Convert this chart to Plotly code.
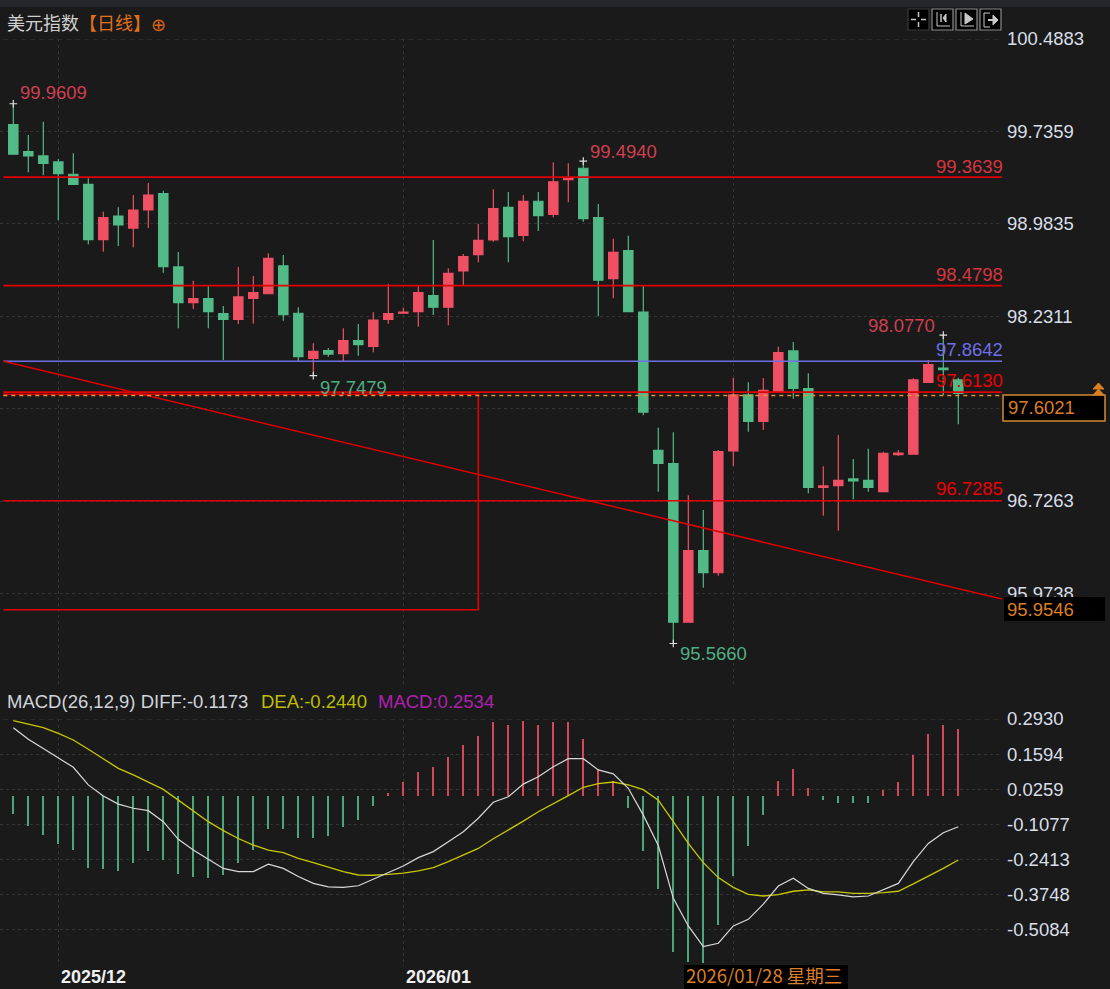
#######################################
# IMPORTS #############################
#######################################

import plotly.graph_objects as go

#######################################
# Data ################################
#######################################

# daily candles (index 0 is the first candle on the left)
opens = [99.791, 99.571, 99.536, 99.487, 99.387, 99.305, 98.854, 99.047, 98.949, 99.096,
         99.229, 98.632, 98.341, 98.374, 98.252, 98.206, 98.377, 98.414, 98.642, 98.255,
         97.888, 97.950, 97.926, 98.032, 97.986, 98.206, 98.255, 98.268, 98.398, 98.304,
         98.599, 98.732, 98.852, 99.118, 98.890, 99.167, 99.061, 99.343, 99.436, 99.033,
         98.537, 98.765, 98.265, 97.139, 97.030, 95.739, 96.322, 96.142, 97.134, 97.590,
         97.375, 97.616, 97.948, 97.641, 96.838, 96.851, 96.906, 96.895, 96.802, 97.103,
         97.107, 97.693, 97.809, 97.712]
highs = [99.9609, 99.707, 99.815, 99.511, 99.558, 99.354, 99.082, 99.118, 99.218, 99.316,
         99.253, 98.754, 98.520, 98.475, 98.314, 98.632, 98.559, 98.743, 98.730, 98.304,
         98.011, 97.972, 98.133, 98.168, 98.263, 98.496, 98.300, 98.477, 98.852, 98.621,
         98.738, 98.984, 99.265, 99.243, 99.218, 99.243, 99.484, 99.476, 99.4940, 99.145,
         98.862, 98.887, 98.477, 97.323, 97.286, 96.773, 96.653, 97.142, 97.728, 97.693,
         97.728, 97.983, 98.021, 97.766, 97.009, 97.264, 97.068, 97.152, 97.128, 97.142,
         97.726, 97.875, 98.0770, 97.730]
lows = [99.550, 99.403, 99.379, 99.012, 99.305, 98.817, 98.756, 98.803, 98.792, 98.949,
        98.585, 98.133, 98.290, 98.133, 97.875, 98.168, 98.170, 98.414, 98.195, 97.861,
        97.7479, 97.901, 97.861, 97.910, 97.937, 98.170, 98.255, 98.146, 98.241, 98.157,
        98.485, 98.670, 98.838, 98.670, 98.841, 98.925, 99.036, 99.159, 99.001, 98.230,
        98.377, 98.268, 97.424, 96.802, 95.5660, 95.739, 96.020, 96.118, 97.011, 97.291,
        97.305, 97.616, 97.559, 96.789, 96.607, 96.485, 96.740, 96.802, 96.802, 97.093,
        97.107, 97.693, 97.590, 97.351]
closes = [99.550, 99.536, 99.476, 99.392, 99.305, 98.854, 99.033, 98.974, 99.096, 99.218,
          98.634, 98.341, 98.374, 98.268, 98.206, 98.388, 98.423, 98.703, 98.243, 97.901,
          97.945, 97.923, 98.032, 97.999, 98.200, 98.252, 98.265, 98.423, 98.304, 98.581,
          98.716, 98.849, 99.107, 98.879, 99.167, 99.050, 99.326, 99.354, 99.025, 98.524,
          98.752, 98.268, 97.449, 97.033, 95.739, 96.322, 96.142, 97.128, 97.590, 97.375,
          97.628, 97.934, 97.644, 96.838, 96.849, 96.895, 96.889, 96.838, 97.115, 97.117,
          97.712, 97.836, 97.796, 97.6021]

# MACD panel
macd_hist = [-0.067, -0.113, -0.147, -0.183, -0.204, -0.273, -0.279, -0.284, -0.255, -0.209,
             -0.245, -0.296, -0.307, -0.312, -0.301, -0.255, -0.206, -0.124, -0.124, -0.159,
             -0.159, -0.152, -0.118, -0.091, -0.038, 0.011, 0.053, 0.093, 0.109, 0.149,
             0.195, 0.230, 0.281, 0.269, 0.287, 0.269, 0.281, 0.281, 0.218, 0.104,
             0.057, -0.044, -0.209, -0.353, -0.593, -0.632, -0.637, -0.491, -0.303, -0.192,
             -0.072, 0.058, 0.104, 0.029, -0.017, -0.028, -0.028, -0.028, 0.024, 0.052,
             0.155, 0.235, 0.269, 0.2534]
diff_line = [0.260, 0.216, 0.181, 0.146, 0.109, 0.042, 0.000, -0.031, -0.047, -0.056,
             -0.098, -0.165, -0.206, -0.241, -0.276, -0.288, -0.288, -0.260, -0.276, -0.307,
             -0.333, -0.346, -0.348, -0.342, -0.318, -0.292, -0.267, -0.235, -0.212, -0.174,
             -0.136, -0.085, -0.024, -0.003, 0.045, 0.073, 0.111, 0.142, 0.142, 0.099,
             0.084, 0.029, -0.073, -0.189, -0.390, -0.495, -0.574, -0.561, -0.495, -0.470,
             -0.412, -0.343, -0.313, -0.352, -0.371, -0.377, -0.384, -0.381, -0.358, -0.333,
             -0.250, -0.181, -0.140, -0.1173]
dea_line = [0.287, 0.274, 0.260, 0.238, 0.213, 0.178, 0.143, 0.105, 0.080, 0.054,
            0.025, -0.016, -0.056, -0.098, -0.132, -0.162, -0.187, -0.206, -0.216, -0.238,
            -0.254, -0.272, -0.288, -0.301, -0.302, -0.299, -0.294, -0.285, -0.273, -0.250,
            -0.225, -0.200, -0.163, -0.130, -0.096, -0.060, -0.031, 0.001, 0.033, 0.047,
            0.053, 0.042, 0.024, -0.016, -0.098, -0.181, -0.254, -0.311, -0.348, -0.375,
            -0.381, -0.376, -0.363, -0.358, -0.365, -0.365, -0.371, -0.371, -0.368, -0.363,
            -0.335, -0.307, -0.276, -0.2440]

# axis ticks (97.4787 has a grid line but its label is hidden behind the price box)
price_ticks = [100.4883, 99.7359, 98.9835, 98.2311, 97.4787, 96.7263, 95.9738]
price_tick_text = ["100.4883", "99.7359", "98.9835", "98.2311", "", "96.7263", "95.9738"]
macd_ticks = [0.2930, 0.1594, 0.0259, -0.1077, -0.2413, -0.3748, -0.5084]
date_grid = [3, 26, 48]
date_labels = {3: "2025/12", 26: "2026/01"}

# horizontal levels drawn on the chart
red_levels = [99.3639, 98.4798, 97.6130, 96.7285]
blue_level = 97.8642
last_price = 97.6021
last_line = 97.585
trend_end_label = 95.9546

# extremes marked with a small cross
extreme_marks = [(0, 99.9609), (20, 97.7479), (38, 99.4940), (44, 95.5660), (62, 98.0770)]

#######################################
# Plotting ############################
#######################################

WIDTH = 1110
HEIGHT = 989
BG = "#1A1A1A"
RED = "#EF5064"
GREEN = "#52BA87"
LINE_RED = "#E00000"
ORANGE = "#DB7F22"
FONT = "Liberation Sans"
CJK = "Noto Sans CJK SC"

X_RANGE = [-0.887, 65.913]
LINE_START = -0.667
BOX_END = 31

def px(x):
    return x / WIDTH

def py(y):
    return 1 - y / HEIGHT

fig = go.Figure()
idx = list(range(len(opens)))

fig.add_trace(go.Candlestick(
    x=idx, open=opens, high=highs, low=lows, close=closes,
    increasing=dict(line=dict(color=RED, width=1.2), fillcolor=RED),
    decreasing=dict(line=dict(color=GREEN, width=1.2), fillcolor=GREEN),
    whiskerwidth=0,
    hoverinfo="skip",
    showlegend=False,
))

# red levels, blue level, box and trend line all sit above the candles
for level in red_levels:
    fig.add_trace(go.Scatter(x=[LINE_START, X_RANGE[1]], y=[level, level], mode="lines",
                             line=dict(color=LINE_RED, width=1.6), hoverinfo="skip", showlegend=False))
fig.add_trace(go.Scatter(x=[LINE_START, X_RANGE[1]], y=[blue_level, blue_level], mode="lines",
                         line=dict(color="#6E6EE6", width=1.6), hoverinfo="skip", showlegend=False))
fig.add_trace(go.Scatter(x=[LINE_START, X_RANGE[1]], y=[blue_level, 95.928], mode="lines",
                         line=dict(color=LINE_RED, width=1.5), hoverinfo="skip", showlegend=False))
fig.add_trace(go.Scatter(x=[LINE_START, BOX_END, BOX_END, LINE_START], y=[97.595, 97.595, 95.841, 95.841],
                         mode="lines", line=dict(color=LINE_RED, width=1.6),
                         hoverinfo="skip", showlegend=False))
fig.add_trace(go.Scatter(x=[LINE_START, X_RANGE[1]], y=[last_line, last_line], mode="lines",
                         line=dict(color="#E8922E", width=1.5, dash="4px,4px"),
                         hoverinfo="skip", showlegend=False))
fig.add_trace(go.Scatter(x=[LINE_START, X_RANGE[1]], y=[price_ticks[0], price_ticks[0]], mode="lines",
                         line=dict(color="#3C3C3C", width=1, dash="5px,4px"),
                         hoverinfo="skip", showlegend=False))

# white crosses on the extremes
fig.add_trace(go.Scatter(x=[m[0] for m in extreme_marks], y=[m[1] for m in extreme_marks], mode="markers",
                         marker=dict(symbol="cross-thin", size=5.5, line=dict(color="#E0E0E0", width=1.2)),
                         hoverinfo="skip", showlegend=False))

# MACD panel
fig.add_trace(go.Bar(x=idx, y=macd_hist, width=0.1,
                     marker=dict(color=["#D2475C" if v > 0 else "#4BA67C" for v in macd_hist], line_width=0),
                     xaxis="x2", yaxis="y2", hoverinfo="skip", showlegend=False))
fig.add_trace(go.Scatter(x=idx, y=dea_line, mode="lines", line=dict(color="#C8C800", width=1.3),
                         xaxis="x2", yaxis="y2", hoverinfo="skip", showlegend=False))
fig.add_trace(go.Scatter(x=idx, y=diff_line, mode="lines", line=dict(color="#D8D8D8", width=1.2),
                         xaxis="x2", yaxis="y2", hoverinfo="skip", showlegend=False))
fig.add_trace(go.Scatter(x=[LINE_START, X_RANGE[1]], y=[macd_ticks[0], macd_ticks[0]], mode="lines",
                         line=dict(color="#3C3C3C", width=1, dash="5px,4px"),
                         xaxis="x2", yaxis="y2", hoverinfo="skip", showlegend=False))

# Text
annotations = []

def add_text(text, x, y, color, size=18.5, family=FONT, anchor="left"):
    annotations.append(dict(text=text, x=px(x), y=py(y), xref="paper", yref="paper", xanchor=anchor,
                            yanchor="middle", showarrow=False, font=dict(family=family, size=size, color=color)))

def add_value(text, x, y, color, xshift, yshift, anchor="left"):
    annotations.append(dict(text=text, x=x, y=y, xref="x", yref="y", xanchor=anchor, yanchor="middle",
                            xshift=xshift, yshift=yshift, showarrow=False,
                            font=dict(family=FONT, size=18.5, color=color)))

add_text("美元指数<span style='color:#E0701A'>【日线】</span>", 5, 22, "#CFCFCF", size=18, family=CJK)
add_text("⊕", 158, 25, "#D9650F", size=18, family="DejaVu Sans", anchor="center")

add_value("99.9609", 0, highs[0], "#CF4050", 5, 11)
add_value("99.4940", 38, highs[38], "#CF4050", 5, 10)
add_value("98.0770", 62, highs[62], "#CF4050", -6, 10, anchor="right")
add_value("97.7479", 20, lows[20], "#4FAE84", 5, -12)
add_value("95.5660", 44, lows[44], "#4FAE84", 5, -10)

add_value("99.3639", X_RANGE[1], red_levels[0], "#D8353F", 3, 11, anchor="right")
add_value("98.4798", X_RANGE[1], red_levels[1], "#D8353F", 3, 11, anchor="right")
add_value("97.8642", X_RANGE[1], blue_level, "#6E6EE6", 3, 12, anchor="right")
add_value("97.6130", X_RANGE[1], red_levels[2], "#EE0000", 3, 12, anchor="right")
add_value("96.7285", X_RANGE[1], red_levels[3], "#EE0000", 3, 12, anchor="right")

add_text("97.6021", 1006, 407, ORANGE)
add_text("95.9546", 1005, 609, ORANGE)

add_text("MACD(26,12,9) DIFF:-0.1173", 5, 701, "#D0D4DC")
add_text("DEA:-0.2440", 259, 701, "#BDBD00")
add_text("MACD:0.2534", 376, 701, "#B020B0")

for i, label in date_labels.items():
    annotations.append(dict(text=f"<b>{label}</b>", x=i, y=py(977), xref="x2", yref="paper", xanchor="left",
                            yanchor="middle", xshift=1, showarrow=False,
                            font=dict(family=FONT, size=18, color="#F0F0F0")))

add_text("2026/01/28 星期三", 684, 974.5, ORANGE, family=CJK, size=18.5)

# Frame pieces: header strip, price boxes, toolbar
shapes = [
    dict(type="rect", xref="paper", yref="paper", x0=0, x1=1, y0=py(7), y1=1, fillcolor="#26272B", line_width=0),
    dict(type="rect", xref="paper", yref="paper", x0=px(1003), x1=px(1105), y0=py(395), y1=py(421),
         fillcolor="#000000", line=dict(color="#CF8A30", width=1.5)),
    dict(type="rect", xref="paper", yref="paper", x0=px(1004), x1=px(1105), y0=py(597), y1=py(621),
         fillcolor="#000000", line_width=0),
    dict(type="rect", xref="paper", yref="paper", x0=px(684), x1=px(848), y0=py(965), y1=py(989),
         fillcolor="#000000", line_width=0),
]

def add_pixel_path(points, color, fill=None, width=1):
    path = "M " + " L ".join(f"{px(x)} {py(y)}" for x, y in points)
    if fill:
        path += " Z"
    shapes.append(dict(type="path", xref="paper", yref="paper", path=path, fillcolor=fill,
                       line=dict(color=color, width=width)))

# double arrow above the last price box
for top in (383, 389):
    add_pixel_path([(1098.5, top), (1104, top + 6), (1093, top + 6)], ORANGE, fill=ORANGE)

# toolbar buttons
for n, left in enumerate([908, 932, 956, 980]):
    border = "#3A3A3A" if n == 0 else "#8A8A8A"
    shapes.append(dict(type="rect", xref="paper", yref="paper", x0=px(left), x1=px(left + 21),
                       y0=py(9), y1=py(30), fillcolor="#000000", line=dict(color=border, width=1.2)))
    if n == 0:
        add_pixel_path([(left + 3, 19.5), (left + 8, 19.5)], "#C8C8C8", width=1.5)
        add_pixel_path([(left + 13, 19.5), (left + 18, 19.5)], "#C8C8C8", width=1.5)
        add_pixel_path([(left + 10.5, 12), (left + 10.5, 17)], "#C8C8C8", width=1.5)
        add_pixel_path([(left + 10.5, 22), (left + 10.5, 27)], "#C8C8C8", width=1.5)
    elif n == 1:
        add_pixel_path([(left + 5, 12), (left + 5, 26), (left + 18, 26)], "#C8C8C8")
        add_pixel_path([(left + 9, 14), (left + 9, 22)], "#C8C8C8", width=1.5)
        add_pixel_path([(left + 14, 14), (left + 11, 18), (left + 14, 22)], "#C8C8C8", fill="#C8C8C8")
    elif n == 2:
        add_pixel_path([(left + 5, 12), (left + 5, 26), (left + 18, 26)], "#C8C8C8")
        add_pixel_path([(left + 9, 13), (left + 17, 19), (left + 9, 24)], "#C8C8C8", fill="#C8C8C8")
    else:
        add_pixel_path([(left + 10, 13), (left + 4, 13), (left + 4, 27), (left + 10, 27)], "#C8C8C8")
        add_pixel_path([(left + 8, 20), (left + 13, 20)], "#C8C8C8", width=2)
        add_pixel_path([(left + 13, 15), (left + 18, 20), (left + 13, 25)], "#C8C8C8", fill="#C8C8C8")

grid = dict(showgrid=True, gridcolor="#343434", griddash="dot", gridwidth=1, zeroline=False, automargin=False)
tick_font = dict(family=FONT, size=18.5, color="#D8DEE8")

fig.update_layout(
    width=WIDTH,
    height=HEIGHT,
    autosize=False,
    margin=dict(l=0, r=0, t=0, b=0, autoexpand=False),
    paper_bgcolor=BG,
    plot_bgcolor=BG,
    showlegend=False,
    boxgap=0.11,
    bargap=0,
    xaxis=dict(domain=[0, 1002 / WIDTH], range=X_RANGE, tickvals=date_grid, showticklabels=False,
               ticks="", rangeslider=dict(visible=False), anchor="y", **grid),
    yaxis=dict(domain=[py(685), py(39)], range=[95.228, 100.4883], side="right", anchor="x",
               tickvals=price_ticks, ticktext=price_tick_text, tickfont=tick_font, ticks="",
               ticklabelstandoff=4, **grid),
    xaxis2=dict(domain=[0, 1002 / WIDTH], range=X_RANGE, tickvals=date_grid, showticklabels=False,
                ticks="", anchor="y2", **grid),
    yaxis2=dict(domain=[py(966), py(719)], range=[-0.6476, 0.2930], side="right", anchor="x2",
                tickvals=macd_ticks, ticktext=[f"{v:.4f}" for v in macd_ticks], tickfont=tick_font,
                ticks="", ticklabelstandoff=4, **grid),
    annotations=annotations,
    shapes=shapes,
)

fig.write_html("out.html", config={"displayModeBar": False},
               post_script="document.body.style.margin='0';document.body.style.background='#1A1A1A';")
